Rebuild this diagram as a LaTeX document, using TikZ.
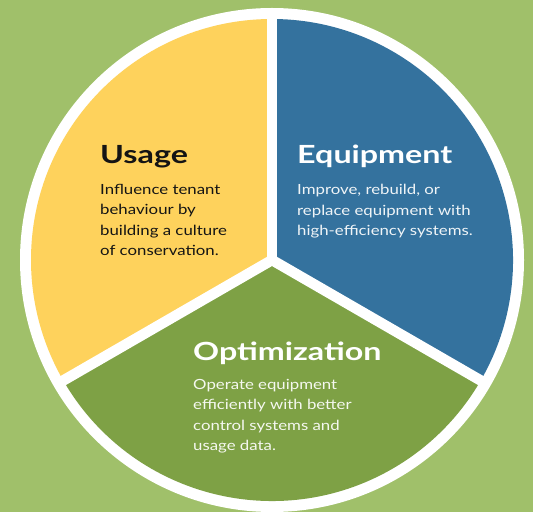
\documentclass[tikz,border=0pt]{standalone}
\usepackage{fontspec}
\setmainfont{Lato}[FakeStretch=1.2]
\newfontfamily\titlefont{Lato}[FakeStretch=1.29]
\usetikzlibrary{calc}
\definecolor{bggreen}{RGB}{160,192,106}
\definecolor{usageyellow}{RGB}{254,210,92}
\definecolor{equipblue}{RGB}{52,114,158}
\definecolor{optgreen}{RGB}{126,161,69}
\definecolor{darktext}{RGB}{20,20,20}
\tikzset{
  title/.style={anchor=base west, inner sep=0pt, font=\titlefont\fontsize{25}{30}\selectfont\bfseries},
  body/.style={anchor=base west, inner sep=0pt, align=left, font=\fontsize{14}{20.4}\selectfont},
  divider/.style={white, line width=10.5pt, line cap=butt},
}
\begin{document}
\begin{tikzpicture}[x=1pt,y=1pt]
\useasboundingbox (0,0) rectangle (533,512);
\fill[bggreen] (0,0) rectangle (533,512);
\coordinate (c) at (272,252);
\fill[white] (c) circle (252);
\fill[usageyellow] (c) -- ++(90:241) arc (90:210:241) -- cycle;
\fill[equipblue] (c) -- ++(-30:241) arc (-30:90:241) -- cycle;
\fill[optgreen] (c) -- ++(210:241) arc (210:330:241) -- cycle;
\coordinate (top) at ($(c)+(90:246)$);
\coordinate (left) at ($(c)+(210:246)$);
\coordinate (right) at ($(c)+(330:246)$);
\draw[divider] (c) -- (top);
\draw[divider] (c) -- (left);
\draw[divider] (c) -- (right);
\fill[white] (c) circle (5.2);
\node[title, text=darktext] (ut) at (100,348.5) {Usage};
\node[body, text=darktext] (ub) at (100,256.5) {Influence tenant\\behaviour by\\building a culture\\of conservation.};
\node[title, text=white] (et) at (297,348.5) {Equipment};
\node[body, text=white!92!equipblue] (eb) at (297,276.5) {Improve, rebuild, or\\replace equipment with\\high-efficiency systems.};
\node[title, text=white] (ot) at (193,152) {Optimization};
\node[body, text=white!92!optgreen] (ob) at (193,61.5) {Operate equipment\\efficiently with better\\control systems and\\usage data.};
\end{tikzpicture}
\end{document}
